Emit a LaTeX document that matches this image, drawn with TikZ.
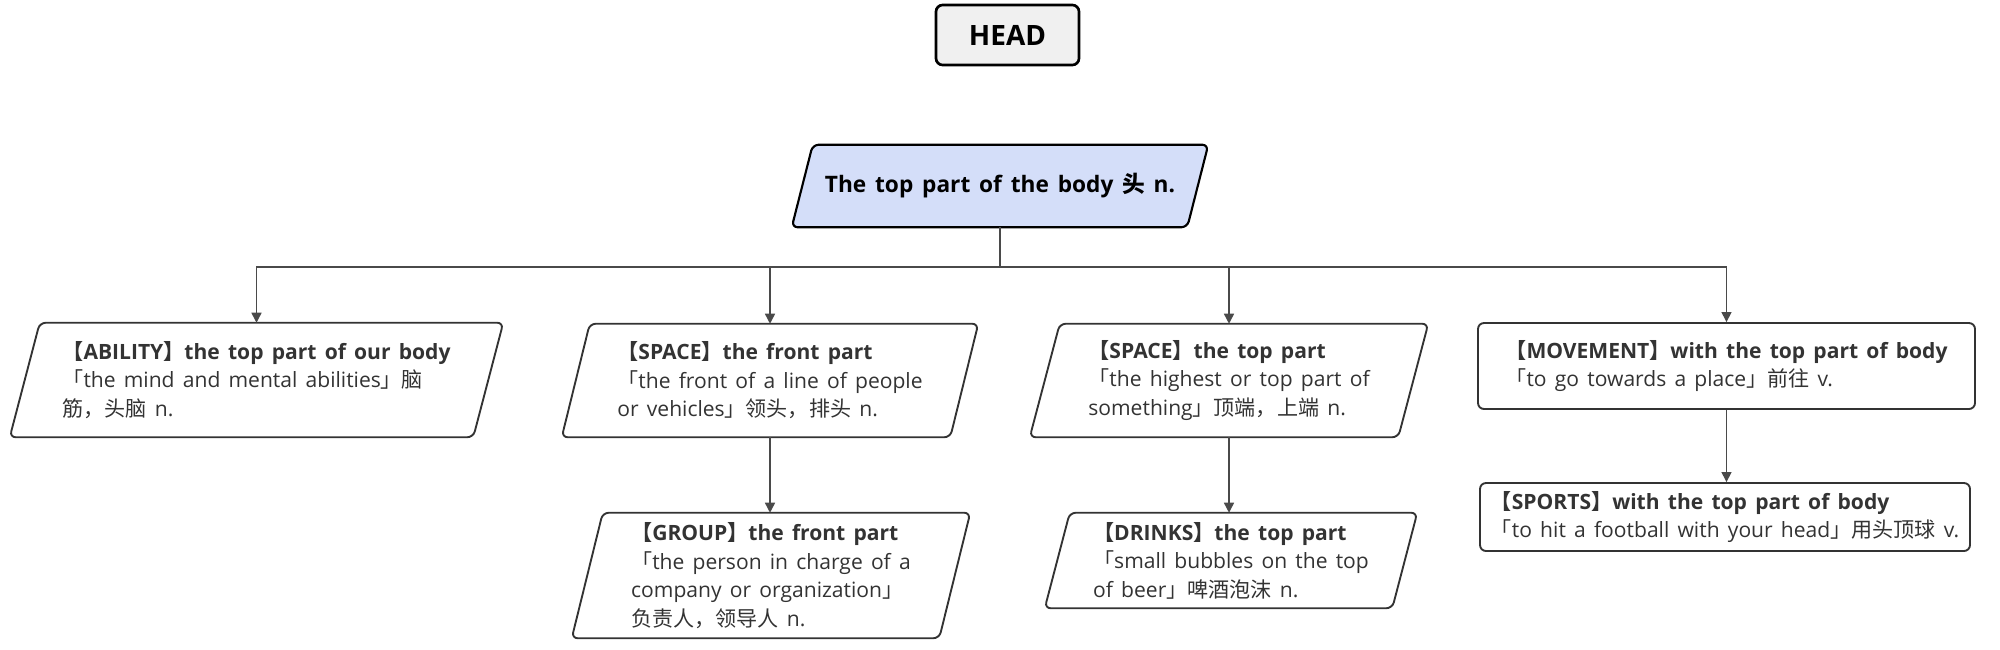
\documentclass[tikz,border=0pt]{standalone}
\usepackage{fontspec}
\setmainfont{Open Sans}[WordSpace=1.5]
\newfontfamily\cjk{Noto Sans CJK SC}
\newcommand\C[1]{{\cjk #1}}
\usetikzlibrary{arrows.meta,calc,backgrounds}
\definecolor{txt}{HTML}{333333}
\definecolor{edge}{HTML}{333333}
\definecolor{conncol}{HTML}{4A4A4A}
\definecolor{rootfill}{HTML}{D4DEF9}
\definecolor{headfill}{HTML}{F0F0F0}
\tikzset{
  item/.style={minimum width=#1, inner sep=0pt, align=left, text=txt,
    font=\fontsize{15.8pt}{21.4pt}\selectfont},
  pbox/.style={draw=edge, line width=1.4pt, rounded corners=4.5pt, fill=white},
  rbox/.style={draw=edge, line width=1.4pt, rounded corners=4.5pt, fill=white},
  conn/.style={draw=conncol, line width=1.1pt, -{Triangle[length=7.5pt,width=7.5pt]}},
  plain/.style={draw=conncol, line width=1.1pt},
}
\newcommand\parabox[2]{%
  \draw[pbox] ($(#1.north west)+(#2,0)$) -- (#1.north east) -- ($(#1.south east)-(#2,0)$) -- (#1.south west) -- cycle;}
\begin{document}
\begin{tikzpicture}[x=0.75pt,y=-0.75pt]
\useasboundingbox (0,0) rectangle (2000,650);
% HEAD
\node[draw=black, line width=2pt, rounded corners=5pt, fill=headfill,
  minimum width=107.25pt, minimum height=45pt, inner sep=0pt,
  font=\fontsize{21pt}{24pt}\selectfont\bfseries] (head) at (1007.5,35) {HEAD};
% root
\node[inner sep=0pt, minimum width=312pt, minimum height=61.5pt,
  font=\fontsize{17pt}{22pt}\selectfont\bfseries] (root) at (1000,186)
  {The top part of the body \C{头} n.};
% level 1
\node[item=369.75pt, minimum height=85.5pt] (a) at (256.5,380)
  {\textbf{\C{【}ABILITY\C{】}the top part of our body}\\\C{「}the mind and mental abilities\C{」脑}\\\C{筋，头脑} n.};
\node[item=312pt, minimum height=84.75pt] (b) at (770,380.5)
  {\textbf{\C{【}SPACE\C{】}the front part}\\\C{「}the front of a line of people\\or vehicles\C{」领头，排头} n.};
\node[item=298.5pt, minimum height=84.75pt] (c) at (1229,380.5)
  {\textbf{\C{【}SPACE\C{】}the top part}\\\C{「}the highest or top part of\\something\C{」顶端，上端} n.};
\node[item=372.75pt, minimum height=64.5pt, rbox] (d) at (1726.5,366)
  {\textbf{\C{【}MOVEMENT\C{】}with the top part of body}\\\C{「}to go towards a place\C{」前往} v.};
% level 2
\node[item=298.5pt, minimum height=93.75pt] (e) at (771,575.5)
  {\textbf{\C{【}GROUP\C{】}the front part}\\\C{「}the person in charge of a\\company or organization\C{」}\\\C{负责人，领导人} n.};
\node[item=279pt, minimum height=71.25pt] (f) at (1231,560.5)
  {\textbf{\C{【}DRINKS\C{】}the top part}\\\C{「}small bubbles on the top\\of beer\C{」啤酒泡沫} n.};
\node[item=367.5pt, minimum height=51pt, rbox] (g) at (1725,517)
  {\textbf{\C{【}SPORTS\C{】}with the top part of body}\\\C{「}to hit a football with your head\C{」用头顶球} v.};
% parallelogram outlines
\begin{scope}[on background layer]
  \draw[fill=rootfill, draw=black, line width=1.6pt, rounded corners=4.5pt]
    ($(root.north west)+(21,0)$) -- (root.north east) -- ($(root.south east)-(21,0)$) -- (root.south west) -- cycle;
  \parabox{a}{30}
  \parabox{b}{28}
  \parabox{c}{30}
  \parabox{e}{31}
  \parabox{f}{25}
\end{scope}
% connectors
\coordinate (bus) at (1001,267);
\draw[plain] (root.south) -- (root.south |- bus);
\draw[conn] (bus) -| (a.north);
\draw[conn] (bus) -| (b.north);
\draw[conn] (bus) -| (c.north);
\draw[conn] (bus) -| (d.north);
\draw[conn] (b.south) -- (b.south |- e.north);
\draw[conn] (c.south) -- (c.south |- f.north);
\draw[conn] (d.south) -- (d.south |- g.north);
\end{tikzpicture}
\end{document}
